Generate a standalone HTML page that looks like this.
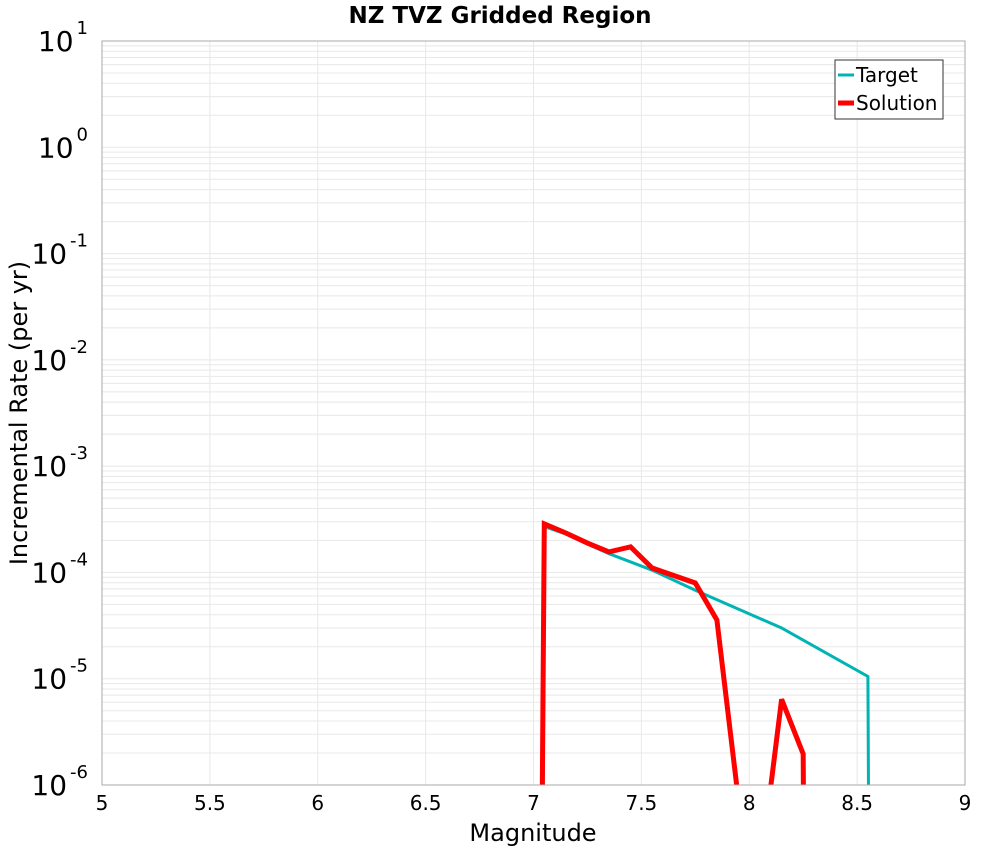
<!DOCTYPE html>
<html><head><meta charset="utf-8"><style>
html,body{margin:0;padding:0;background:#fff;overflow:hidden;width:1000px;height:850px}
svg{display:block}
</style></head><body>
<svg id="chart" width="1000" height="850" xmlns="http://www.w3.org/2000/svg" font-family="DejaVu Sans, Liberation Sans, sans-serif">
<defs><clipPath id="clip"><rect x="102" y="41" width="863" height="744"/></clipPath></defs>
<rect width="1000" height="850" fill="#fff"/>
<text x="500" y="23" text-anchor="middle" font-size="23" font-weight="bold">NZ TVZ Gridded Region</text>
<g id="grid"></g>
<g id="series" clip-path="url(#clip)"></g>
<rect x="102" y="41" width="863" height="744" fill="none" stroke="#aaa" stroke-width="1"/>
<g id="ticks"></g>
<text x="533" y="841" text-anchor="middle" font-size="24">Magnitude</text>
<text transform="translate(27,413) rotate(-90)" text-anchor="middle" font-size="24">Incremental Rate (per yr)</text>
<g>
<rect x="835" y="60" width="108" height="59" fill="#fff" stroke="#333" stroke-width="1"/>
<line x1="838" y1="75" x2="854" y2="75" stroke="#00b4b4" stroke-width="3"/>
<text x="856" y="82" font-size="20">Target</text>
<line x1="838" y1="103" x2="854" y2="103" stroke="#f00" stroke-width="5"/>
<text x="856" y="110" font-size="20">Solution</text>
</g>
</svg>
<script>
const xTicks=[5,5.5,6,6.5,7,7.5,8,8.5,9];
const yExps=[1,0,-1,-2,-3,-4,-5,-6];
const targetMag=[7.04,7.05,7.15,7.25,7.35,7.55,7.75,8.15,8.55,8.56];
const targetRate=[1e-9,2.7e-4,2.3e-4,1.85e-4,1.5e-4,1.05e-4,6.8e-5,3.0e-5,1.05e-5,1e-9];
const solMag=[7.03,7.05,7.15,7.25,7.35,7.45,7.55,7.75,7.85,7.95,8.05,8.15,8.25,8.26];
const solRate=[1e-9,2.86e-4,2.35e-4,1.89e-4,1.56e-4,1.74e-4,1.1e-4,7.96e-5,3.57e-5,7.2e-7,1.5e-7,6.4e-6,1.96e-6,1e-9];
const X0=102,X1=965,Y0=41,Y1=785;
const xs=m=>X0+(m-5)/4*(X1-X0);
const ys=v=>Y0+(1-Math.log10(v))/7*(Y1-Y0);
const NS='http://www.w3.org/2000/svg';
const grid=document.getElementById('grid'),ticks=document.getElementById('ticks'),series=document.getElementById('series');
function mk(t,a,p){const e=document.createElementNS(NS,t);for(const k in a)e.setAttribute(k,a[k]);p.appendChild(e);return e;}
for(let e=-6;e<1;e++)for(let k=1;k<10;k++){const y=ys(k*Math.pow(10,e));
const l=mk('line',{x1:X0,x2:X1,y1:y,y2:y,stroke:'#e8e8e8','stroke-width':1},grid);

}
xTicks.forEach(t=>{const x=xs(t);
const l=mk('line',{x1:x,x2:x,y1:Y0,y2:Y1,stroke:'#e8e8e8','stroke-width':1},grid);


const tx=mk('text',{x:x,y:810,'text-anchor':'middle','font-size':20},ticks);tx.textContent=String(t);

});
yExps.forEach(e=>{const y=ys(Math.pow(10,e));
const tx=mk('text',{x:88,y:y+10,'text-anchor':'end','font-size':28},ticks);


tx.textContent='10';
const s=mk('tspan',{dx:3,dy:-17,'font-size':18},tx);s.textContent=String(e);});
function line(mags,rates,col,w,name){
const p=mk('polyline',{points:mags.map((m,i)=>xs(m)+','+ys(rates[i])).join(' '),fill:'none',stroke:col,'stroke-width':w,'stroke-linejoin':'miter'},series);

}
line(targetMag,targetRate,'#00b4b4',3,'target-line');
line(solMag,solRate,'#f00',5,'solution-line');
</script>
</body></html>
